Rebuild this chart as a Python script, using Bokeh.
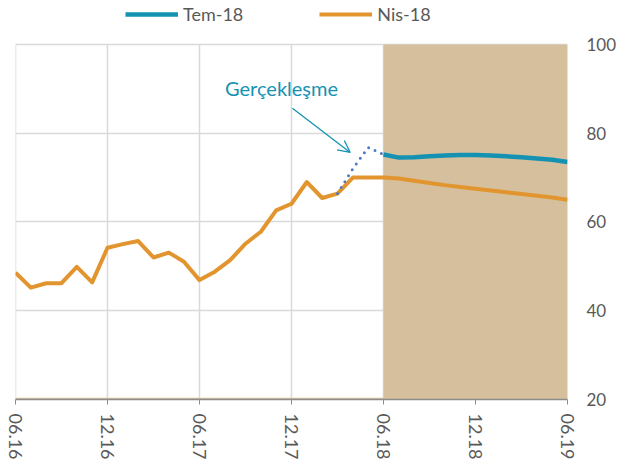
from bokeh.plotting import figure
from bokeh.models import Range1d, FixedTicker, Legend, LegendItem, Label, Arrow, OpenHead
from bokeh.embed import file_html
from bokeh.resources import INLINE

# month offsets from 06.16
tick_pos = [0, 6, 12, 18, 24, 30, 36]
tick_labels = ["06.16", "12.16", "06.17", "12.17", "06.18", "12.18", "06.19"]
y_ticks = [20, 40, 60, 80, 100]

nis_x = list(range(0, 37))
nis_y = [48.6, 45.2, 46.2, 46.2, 49.9, 46.4, 54.2, 55.0, 55.7, 52.0, 53.1, 51.0,
         46.9, 48.8, 51.4, 55.1, 57.8, 62.6, 64.1, 69.0, 65.4, 66.4, 70.0, 70.0,
         70.0, 69.8, 69.3, 68.8, 68.3, 67.9, 67.5, 67.1, 66.7, 66.3, 65.9, 65.5, 65.0]

tem_x = list(range(24, 37))
tem_y = [75.2, 74.5, 74.6, 74.8, 75.0, 75.1, 75.1, 75.0, 74.8, 74.6, 74.3, 74.0, 73.5]

real_x = [21, 22, 23, 24]
real_y = [66.4, 72.0, 76.8, 75.2]

shade_left = [24, 0]
shade_right = [36, 24]
shade_bottom = [20, 20]
shade_top = [100, 20.4]

TEAL = "#1592b2"
ORANGE = "#e2952f"
TAN = "#d5bf9c"
GREY = "#595959"
GRID = "#d9d9d9"
FONT = "Lato"

p = figure(width=619, height=466, x_range=Range1d(0, 36), y_range=Range1d(20, 109.9),
           y_axis_location="right", output_backend="svg", toolbar_location=None,
           min_border_left=15, min_border_right=50, min_border_top=0, min_border_bottom=67)
p.outline_line_color = None
p.background_fill_color = "white"
p.border_fill_color = "white"

# vertical gridlines limited to the 20-100 band
n = len(tick_pos)
p.segment(x0=tick_pos, y0=[y_ticks[0]] * n, x1=tick_pos, y1=[y_ticks[-1]] * n,
          line_color=GRID, line_width=1.5, level="underlay")

p.quad(left=shade_left, right=shade_right, bottom=shade_bottom, top=shade_top,
       fill_color=TAN, line_color=None)

r_nis = p.line(nis_x, nis_y, line_color=ORANGE, line_width=4, line_join="round")
p.line(real_x, real_y, line_color="#4a7cc5", line_width=3, line_dash="0 7", line_cap="round")
r_tem = p.line(tem_x, tem_y, line_color=TEAL, line_width=4.5, line_join="round")

# axes
xa = p.xaxis[0]
xa.ticker = FixedTicker(ticks=tick_pos)
xa.major_label_overrides = {t: l for t, l in zip(tick_pos, tick_labels)}
xa.major_label_orientation = "vertical"
xa.axis_line_color = "#8c8c8c"
xa.axis_line_width = 1.5
xa.major_tick_line_color = "#8c8c8c"
xa.major_tick_out = 5
xa.major_tick_in = 0
xa.minor_tick_line_color = None
xa.major_label_standoff = 9
xa.major_label_text_font = FONT
xa.major_label_text_font_size = "18px"
xa.major_label_text_color = GREY

ya = p.yaxis[0]
ya.ticker = FixedTicker(ticks=y_ticks)
ya.axis_line_color = None
ya.major_tick_line_color = None
ya.minor_tick_line_color = None
ya.major_tick_out = 0
ya.major_tick_in = 0
ya.major_label_standoff = 19
ya.major_label_text_font = FONT
ya.major_label_text_font_size = "17px"
ya.major_label_text_color = GREY

p.xgrid.grid_line_color = None
p.ygrid.ticker = FixedTicker(ticks=[40, 60, 80, 100])
p.ygrid.grid_line_color = GRID
p.ygrid.grid_line_width = 1.5

legend = Legend(items=[LegendItem(label="Tem-18", renderers=[r_tem]),
                       LegendItem(label="Nis-18", renderers=[r_nis])],
                orientation="horizontal", location=(110, 374),
                padding=0, margin=0, spacing=76, label_standoff=5,
                glyph_width=53, glyph_height=20, label_height=20,
                border_line_color=None, background_fill_alpha=0,
                label_text_font=FONT, label_text_font_size="18px",
                label_text_color=GREY)
p.add_layout(legend, "center")

p.add_layout(Label(x=17.35, y=90.1, text="Gerçekleşme", text_align="center",
                   text_baseline="alphabetic", text_font=FONT, text_font_size="20px",
                   text_color=TEAL))
p.add_layout(Arrow(x_start=18.06, y_start=85.6, x_end=21.83, y_end=75.66,
                   line_color=TEAL, line_width=1.3,
                   end=OpenHead(size=12, line_color=TEAL, line_width=1.3)))

open("out.html", "w").write(file_html(p, INLINE))
